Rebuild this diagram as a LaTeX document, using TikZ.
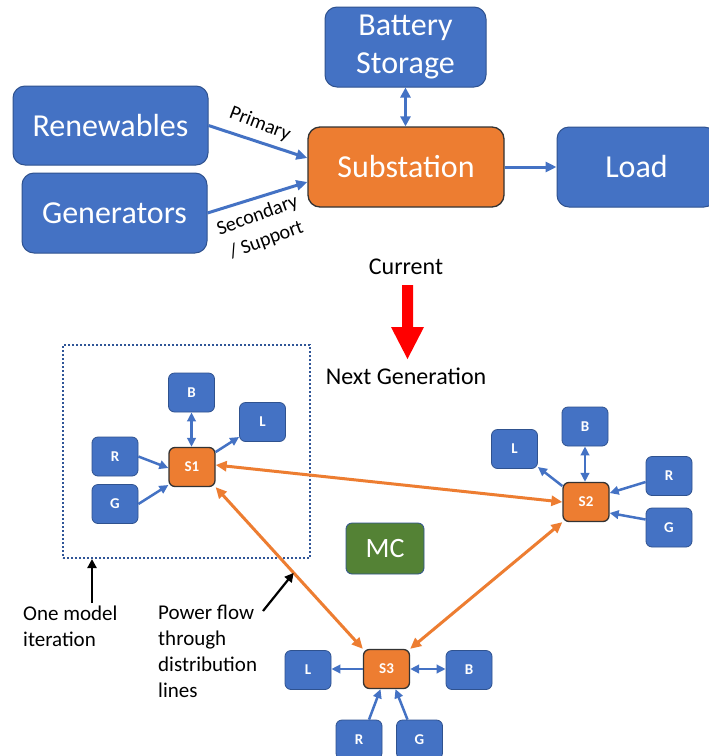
\documentclass[tikz,border=0pt]{standalone}
\usepackage{fontspec}
\setmainfont{Carlito}
\usetikzlibrary{arrows.meta,calc}
\definecolor{boxblue}{HTML}{4472C4}
\definecolor{boxedge}{HTML}{2F528F}
\definecolor{subor}{HTML}{ED7D31}
\definecolor{mcgreen}{HTML}{548235}
\definecolor{dotblue}{HTML}{2F5597}
\newcommand{\myfs}[2]{\fontsize{#1}{#2}\selectfont}
\tikzset{
  bigbox/.style={draw=boxedge, fill=boxblue, line width=1pt, rounded corners=12pt,
    text=white, inner sep=0pt, align=center, font=\myfs{32}{38}},
  subbig/.style={bigbox, fill=subor, draw=black!80, line width=1.3pt},
  smallbox/.style={draw=boxedge, fill=boxblue, line width=0.8pt, rounded corners=6pt,
    text=white, minimum width=46pt, minimum height=39pt, inner sep=0pt,
    font=\bfseries\myfs{15}{18}},
  subsmall/.style={smallbox, fill=subor, draw=black!80, line width=1.3pt},
  mcbox/.style={smallbox, fill=mcgreen, minimum width=78pt, minimum height=51pt,
    font=\myfs{28}{32}},
  bluearrow/.style={draw=boxblue, line width=3pt, -{Triangle[length=11pt,width=10pt]}},
  bluedouble/.style={draw=boxblue, line width=3pt,
    {Triangle[length=10pt,width=10pt]}-{Triangle[length=10pt,width=10pt]}},
  smallarrow/.style={draw=boxblue, line width=2.5pt, -{Triangle[length=9pt,width=8.5pt]}},
  smalldouble/.style={draw=boxblue, line width=2.5pt,
    {Triangle[length=9pt,width=8.5pt]}-{Triangle[length=9pt,width=8.5pt]}},
  orarrow/.style={draw=subor, line width=3pt,
    {Triangle[length=11pt,width=10pt]}-{Triangle[length=11pt,width=10pt]}},
  blackarrow/.style={draw=black, line width=2.2pt, -{Triangle[length=9pt,width=9pt]}},
  label20/.style={font=\myfs{20}{26}, text=black, align=center, inner sep=0pt},
  annot/.style={font=\myfs{21}{26}, text=black, align=left, inner sep=0pt, anchor=west},
}
\begin{document}
\begin{tikzpicture}[x=1pt,y=-1pt]
\useasboundingbox (0,0) rectangle (709,756);
\clip (0,0) rectangle (709,756);
\fill[white] (0,0) rectangle (709,756);

% ---------- top (current) ----------
\node[bigbox, minimum width=161pt, minimum height=80pt] (bat) at (405.5,47) {Battery\\Storage};
\node[bigbox, minimum width=195pt, minimum height=79pt] (ren) at (110.5,125.5) {Renewables};
\node[bigbox, minimum width=185pt, minimum height=80pt] (gen) at (114.5,213) {Generators};
\node[subbig, minimum width=196pt, minimum height=80pt] (sub) at (406,167) {Substation};
\node[bigbox, minimum width=159pt, minimum height=80pt] (load) at (636.5,167) {Load};

\draw[bluearrow] (ren.east) -- ([yshift=9pt]sub.west);
\draw[bluearrow] (gen.east) -- ([yshift=-15pt]sub.west);
\draw[bluearrow] (sub.east) -- (load.west);
\draw[bluedouble] (bat.south) -- (bat.south |- sub.north);

\node[label20, rotate=-21] (prim) at (260,124) {Primary};
\node[label20, rotate=20] (sec) at (262,228) {Secondary\\/ Support};

\node[font=\myfs{24}{28}, inner sep=0pt] (cur) at (406,267) {Current};
\fill[red] (402,285) -- (413,285) -- (413,327) -- (424,327) -- (407.5,359)
  -- (391,327) -- (402,327) -- cycle;
\node[font=\myfs{24}{28}, inner sep=0pt] (next) at (406,376) {Next Generation};

% ---------- bottom (next generation) ----------
\node[draw=dotblue, line width=2pt, dash pattern=on 2pt off 2pt,
  minimum width=247pt, minimum height=213pt, inner sep=0pt] (iter) at (186.5,451.5) {};

% group 1
\node[subsmall] (s1) at (192,467) {S1};
\node[smallbox] (b1) at (191.5,392.5) {B};
\node[smallbox] (l1) at (262.5,422) {L};
\node[smallbox] (r1) at (115,456.5) {R};
\node[smallbox] (g1) at (115,504) {G};
\draw[smallarrow] (r1.east) -- ([yshift=-1pt]s1.west);
\draw[smallarrow] (g1.east) -- ([yshift=-18pt]s1.west);
\draw[smallarrow] ([yshift=15pt]s1.east) -- ([yshift=-15pt]l1.west);
\draw[smalldouble] (b1.south) -- (b1.south |- s1.north);

% group 2
\node[subsmall] (s2) at (586,502) {S2};
\node[smallbox] (b2) at (585,426.5) {B};
\node[smallbox] (l2) at (514.5,449) {L};
\node[smallbox] (r2) at (669,476) {R};
\node[smallbox] (g2) at (669,527.5) {G};
\draw[smallarrow] ([yshift=16pt]s2.west) -- ([yshift=-18pt]l2.east);
\draw[smalldouble] (b2.south) -- (b2.south |- s2.north);
\draw[smallarrow] ([yshift=-6pt]r2.west) -- ([yshift=9pt]s2.east);
\draw[smallarrow] ([yshift=8pt]g2.west) -- ([yshift=-11pt]s2.east);

% group 3
\node[subsmall] (s3) at (386.5,669) {S3};
\node[smallbox] (l3) at (308,670) {L};
\node[smallbox] (b3) at (469,670) {B};
\node[smallbox] (r3) at (359,739.5) {R};
\node[smallbox] (g3) at (419.5,739.5) {G};
\draw[smallarrow] (s3.west) -- (s3.west -| l3.east);
\draw[smalldouble] (s3.east) -- (s3.east -| b3.west);
\draw[smallarrow] ([xshift=10pt]r3.north) -- ([xshift=-6pt]s3.south);
\draw[smallarrow] ([xshift=-12pt]g3.north) -- ([xshift=9pt]s3.south);

\node[mcbox] (mc) at (385,548.5) {MC};

% distribution lines
\draw[orarrow] ([yshift=2pt]s1.east) -- (s2.west);
\draw[orarrow] (s1.south east) -- (s3.north west);
\draw[orarrow] (s2.south west) -- (s3.north east);

% annotations
\node[annot] (om) at (23,626) {One model\\iteration};
\node[annot] (pf) at (158,651.5) {Power flow\\through\\distribution\\lines};
\coordinate (omtail) at (92,603);
\draw[blackarrow] (omtail) -- (omtail |- iter.south);
\path (s1.south east) -- (s3.north west) coordinate[pos=0.53] (pftip);
\coordinate (pftail) at (263,611);
\draw[blackarrow] (pftail) -- (pftip);
\end{tikzpicture}
\end{document}
